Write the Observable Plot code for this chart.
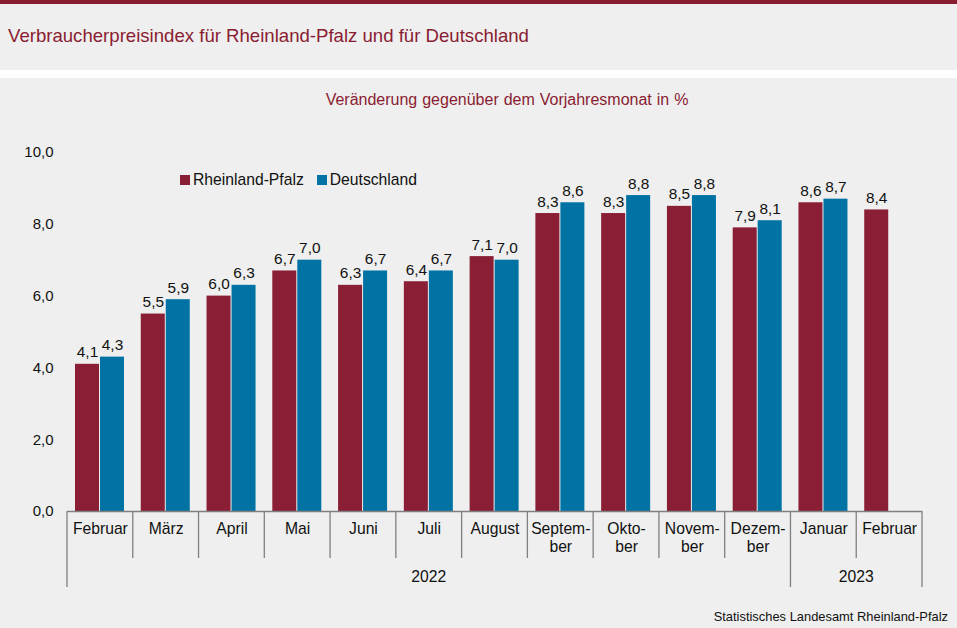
<!DOCTYPE html>
<html><head><meta charset="utf-8">
<script src="https://cdn.jsdelivr.net/npm/d3@7"></script>
<script src="https://cdn.jsdelivr.net/npm/@observablehq/plot@0.6"></script>
<style>
body{margin:0;width:957px;height:628px;background:#eeefee;font-family:"Liberation Sans",Arial,sans-serif;position:relative;overflow:hidden}
#topbar{position:absolute;left:0;top:0;width:957px;height:4px;background:#8a1c32}
#white{position:absolute;left:0;top:70px;width:957px;height:8px;background:#ffffff}
#title{position:absolute;left:8px;top:26px;font-size:18.6px;color:#8a1c32;white-space:nowrap;line-height:20px}
#sub{position:absolute;left:0;width:1014px;text-align:center;top:91px;font-size:16px;color:#8a1c32;word-spacing:0.5px;line-height:18px;white-space:nowrap}
#legend{position:absolute;left:180px;top:171px;font-size:15.7px;color:#111;white-space:nowrap;line-height:18px}
#legend span.sw{display:inline-block;width:10px;height:10px;margin-right:3px;vertical-align:0px}
#legend span.it{margin-right:13px}
#chart{position:absolute;left:0;top:78px}
#cap{position:absolute;right:9px;top:609px;font-size:12.9px;color:#111;white-space:nowrap}
</style>
</head><body>
<div id="topbar"></div>
<div id="white"></div>
<div id="title">Verbraucherpreisindex für Rheinland-Pfalz und für Deutschland</div>
<div id="sub">Veränderung gegenüber dem Vorjahresmonat in %</div>
<div id="chart"></div>
<div id="legend"></div>
<div id="cap">Statistisches Landesamt Rheinland-Pfalz</div>
<script>
// ---- data ----
const monthLabels = ["Februar","März","April","Mai","Juni","Juli","August","Septem-\nber","Okto-\nber","Novem-\nber","Dezem-\nber","Januar","Februar"];
const years = ["2022","2022","2022","2022","2022","2022","2022","2022","2022","2022","2022","2023","2023"];
const rheinlandPfalz = [4.1,5.5,6.0,6.7,6.3,6.4,7.1,8.3,8.3,8.5,7.9,8.6,8.4];
const deutschland = [4.3,5.9,6.3,7.0,6.7,6.7,7.0,8.6,8.8,8.8,8.1,8.7,null];
const yTicks = [0,2,4,6,8,10];
const seriesNames = ["Rheinland-Pfalz","Deutschland"];
const seriesColors = ["#8a1e35","#0073a4"];

const rows = monthLabels.map((m,i)=>({key: m+" "+years[i], label: m, year: years[i], rp: rheinlandPfalz[i], de: deutschland[i]}));
const keys = rows.map(d=>d.key);
const fmt = v => v.toFixed(1).replace(".", ",");

// ---- layout ----
const W = 957, H = 550, mL = 67, mR = 35, mT = 74, mB = 117;
const step = (W - mL - mR) / keys.length;
const outer = 8, bw = 24, gap = 1;
const axisColor = "#808080";

const plot = Plot.plot({
  width: W, height: H,
  marginLeft: mL, marginRight: mR, marginTop: mT, marginBottom: mB,
  style: {background: "transparent", fontFamily: "'Liberation Sans', Arial, sans-serif", fontSize: "15px", color: "#111"},
  x: {type: "band", domain: keys, padding: 0, round: false, axis: null},
  y: {domain: [0, 10], ticks: yTicks, tickFormat: fmt, tickSize: 0, tickPadding: 14, label: null},
  marks: [
    Plot.barY(rows, {x: "key", y: "rp", fill: seriesColors[0], insetLeft: outer, insetRight: step - outer - bw}),
    Plot.barY(rows.filter(d=>d.de != null), {x: "key", y: "de", fill: seriesColors[1], insetLeft: outer + bw + gap, insetRight: step - outer - 2*bw - gap}),
    Plot.text(rows, {x: "key", y: "rp", text: d=>fmt(d.rp), dx: outer + bw/2 - step/2, dy: -7, lineAnchor: "bottom", fill: "#111", fontSize: 15.4}),
    Plot.text(rows.filter(d=>d.de != null), {x: "key", y: "de", text: d=>fmt(d.de), dx: outer + bw + gap + bw/2 - step/2, dy: -7, lineAnchor: "bottom", fill: "#111", fontSize: 15.4}),
    Plot.ruleY([0], {stroke: axisColor, strokeWidth: 1.3}),
    Plot.text(rows, {x: "key", text: "label", frameAnchor: "bottom", lineAnchor: "top", dy: 10, lineHeight: 1.14, fill: "#111", fontSize: 15.7})
  ]
});
document.getElementById("chart").appendChild(plot);

// ---- custom category axis using the plot's x scale ----
const xs = plot.scale("x"), ys = plot.scale("y");
const y0 = ys.apply(0);
const svg = d3.select(plot);
const g = svg.append("g").attr("stroke", axisColor).attr("stroke-width", 1.3);
keys.forEach((k,i)=>{
  const left = xs.apply(k);
  const yearStart = i === 0 || years[i] !== years[i-1];
  g.append("line").attr("x1", left).attr("x2", left).attr("y1", y0).attr("y2", y0 + (yearStart ? 76 : 47));
});
const lastKey = keys[keys.length-1];
const rightEdge = xs.apply(lastKey) + xs.bandwidth;
g.append("line").attr("x1", rightEdge).attr("x2", rightEdge).attr("y1", y0).attr("y2", y0 + 76);

// year labels centered under their months
const yearGroups = d3.groups(rows, d=>d.year);
const gy = svg.append("g").attr("font-size", 15.7).attr("fill", "#111").attr("text-anchor", "middle");
yearGroups.forEach(([yr, rs])=>{
  const a = xs.apply(rs[0].key), b = xs.apply(rs[rs.length-1].key) + xs.bandwidth;
  gy.append("text").attr("x", (a+b)/2).attr("y", y0 + 71).text(yr);
});

// legend
const leg = document.getElementById("legend");
seriesNames.forEach((n,i)=>{
  const sw = document.createElement("span"); sw.className = "sw"; sw.style.background = seriesColors[i];
  const t = document.createElement("span"); t.className = "it"; t.textContent = n;
  leg.appendChild(sw); leg.appendChild(t);
});
</script>
</body></html>
